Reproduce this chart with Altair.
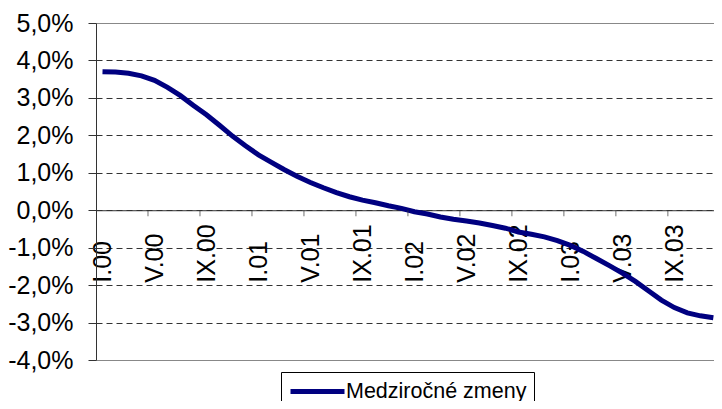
import altair as alt
import pandas as pd

# ---- data ----
months = ["I", "II", "III", "IV", "V", "VI", "VII", "VIII", "IX", "X", "XI", "XII"]
years = ["00", "01", "02", "03"]
periods = [f"{m}.{y}" for y in years for m in months]

values = [
    3.70, 3.69, 3.66, 3.59, 3.47, 3.28, 3.06, 2.80, 2.55, 2.27, 1.98, 1.72,
    1.48, 1.28, 1.08, 0.90, 0.74, 0.60, 0.47, 0.36, 0.27, 0.20, 0.12, 0.05,
    -0.04, -0.10, -0.18, -0.24, -0.29, -0.34, -0.41, -0.48, -0.58, -0.64, -0.71, -0.81,
    -0.94, -1.10, -1.29, -1.48, -1.68, -1.90, -2.15, -2.40, -2.60, -2.74, -2.82, -2.87,
]
series_name = "Medziročné zmeny"
label_idx = list(range(0, 48, 4))
y_ticks = [-4, -3, -2, -1, 0, 1, 2, 3, 4, 5]

df = pd.DataFrame({
    "idx": list(range(len(periods))),
    "period": periods,
    "value": values,
    "series": [series_name] * len(periods),
})
ticks_df = pd.DataFrame({"pos": [i - 0.5 for i in label_idx if i > 0], "zero": [0] * (len(label_idx) - 1)})

FONT = "Liberation Sans"
W, H = 618, 337
Y_MIN, Y_MAX = -4, 5
zero_offset = -H * (0 - Y_MIN) / (Y_MAX - Y_MIN)

label_array = "[" + ",".join(f"'{p}'" for p in periods) + "]"

x_scale = alt.Scale(domain=[-0.5, 47.05], nice=False, zero=False)
y_scale = alt.Scale(domain=[Y_MIN, Y_MAX], nice=False, zero=False)

x_axis = alt.Axis(
    values=label_idx,
    labelExpr=f"{label_array}[datum.value]",
    labelAngle=-90, labelAlign="left", labelBaseline="middle",
    labelPadding=72, ticks=False, tickSize=0, grid=False,
    labelFlush=False, labelOverlap=False, labelBound=False,
    domainColor="#333333", domainWidth=1,
    offset=zero_offset, labelFontSize=25, labelFont=FONT, labelColor="black",
    title=None,
)

y_axis = alt.Axis(
    values=y_ticks,
    labelExpr="(datum.value < 0 ? '-' : '') + replace(format(abs(datum.value), '.1f'), '.', ',') + '%'",
    grid=True,
    gridDash={"condition": {"test": "datum.value === 5 || datum.value === -4", "value": []}, "value": [6, 4]},
    gridColor={"condition": {"test": "datum.value === 5 || datum.value === -4", "value": "#888888"}, "value": "#333333"},
    gridWidth=1,
    tickSize=8, tickColor="#333333", labelPadding=15,
    domainColor="#333333", labelFontSize=25, labelFont=FONT, labelColor="black",
    labelFlush=False, labelOverlap=False,
    title=None,
)

line = alt.Chart(df).mark_line(strokeWidth=5, clip=True).encode(
    x=alt.X("idx:Q", scale=x_scale, axis=x_axis),
    y=alt.Y("value:Q", scale=y_scale, axis=y_axis),
    color=alt.Color(
        "series:N",
        scale=alt.Scale(domain=[series_name], range=["#000080"]),
        legend=alt.Legend(
            orient="none", legendX=185, legendY=349, title=None,
            strokeColor="black", fillColor="white", padding=7,
            symbolType="M-2.7,0H2.7", symbolSize=400, symbolStrokeWidth=5,
            symbolOffset=17, labelOffset=16,
            labelFontSize=21.5, labelFont=FONT, labelColor="black",
            cornerRadius=0, labelLimit=400,
        ),
    ),
)

ticks = alt.Chart(ticks_df).mark_tick(
    orient="vertical", size=6, thickness=1, color="#333333", yOffset=3
).encode(
    x=alt.X("pos:Q", scale=x_scale, axis=x_axis),
    y=alt.Y("zero:Q", scale=y_scale, axis=y_axis),
)

chart = alt.layer(line, ticks).properties(
    width=W, height=H,
    padding={"left": 88, "top": 15, "right": 0, "bottom": 41},
    autosize=alt.AutoSizeParams(type="none"),
    background="white",
).configure_view(stroke=None)

chart.save("out.html", embed_options={"renderer": "svg", "actions": False})
